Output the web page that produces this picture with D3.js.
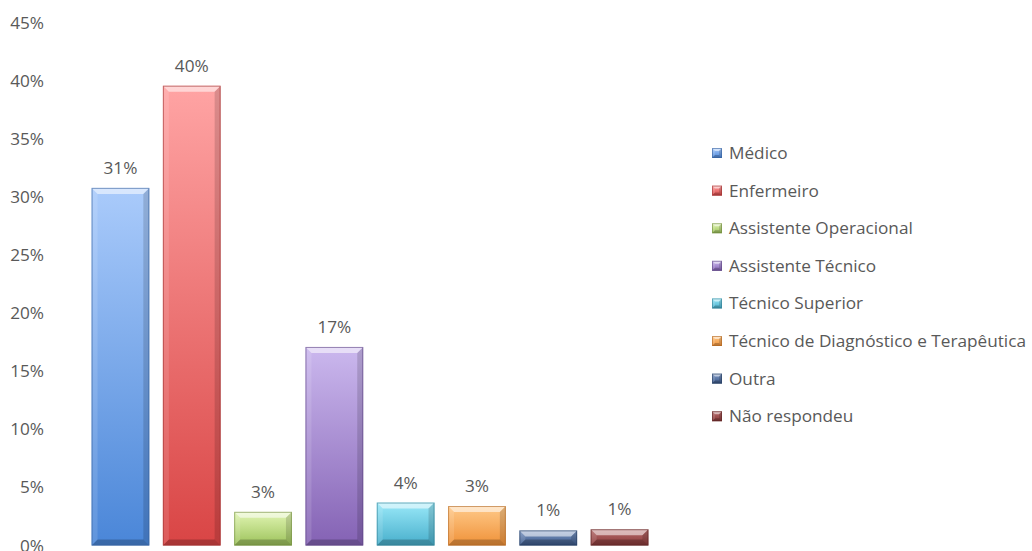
<!DOCTYPE html>
<html>
<head>
<meta charset="utf-8">
<script src="https://cdn.jsdelivr.net/npm/d3@7"></script>
<style>
  html, body { margin: 0; padding: 0; background: #fff; }
  svg text { font-family: "Open Sans", "Lato", sans-serif; fill: #595959; }
</style>
</head>
<body>
<svg id="chart" width="1032" height="551"></svg>
<script>
// Profissão dos respondentes (percentagem)
const categories = [
  "Médico", "Enfermeiro", "Assistente Operacional", "Assistente Técnico",
  "Técnico Superior", "Técnico de Diagnóstico e Terapêutica", "Outra", "Não respondeu"
];
const values = [0.308, 0.396, 0.029, 0.171, 0.037, 0.034, 0.013, 0.014];
const yTicks = [0, 0.05, 0.10, 0.15, 0.20, 0.25, 0.30, 0.35, 0.40, 0.45];
// [light top, dark bottom, edge]
const palette = [
  ["#aacbfb", "#4a86d8", "#35609e"],
  ["#ffa4a4", "#d94545", "#9c3030"],
  ["#e2f6b4", "#9cc25a", "#6f8a3c"],
  ["#cbb8ee", "#8462b4", "#5d4383"],
  ["#9ae9f9", "#47aecb", "#2f7e94"],
  ["#ffca8a", "#ef9138", "#b06622"],
  ["#7e98c4", "#3a5889", "#263d61"],
  ["#b66c6c", "#8a3838", "#5e2424"]
];

const svg = d3.select("#chart");
const fmt = d3.format(".0%");
const FONT = 17.2;

const x = d3.scaleBand().domain(categories).range([84.8, 655.2])
  .paddingInner(0.19).paddingOuter(0.095);
const y = d3.scaleLinear().domain([0, 0.45]).range([545.5, 23]);

// gradients
const defs = svg.append("defs");
palette.forEach((c, i) => {
  const g = defs.append("linearGradient").attr("id", "g" + i)
    .attr("x1", 0).attr("y1", 0).attr("x2", 0).attr("y2", 1);
  g.append("stop").attr("offset", "0%").attr("stop-color", c[0]);
  g.append("stop").attr("offset", "100%").attr("stop-color", c[1]);
});

// y axis labels
const yAxis = d3.axisLeft(y).tickValues(yTicks).tickFormat(fmt).tickSize(0).tickPadding(0);
const ax = svg.append("g").attr("transform", "translate(44,0)").call(yAxis);
ax.select(".domain").remove();
ax.selectAll("text").attr("font-size", FONT).attr("fill", "#595959")
  .style("font-family", "'Open Sans', Lato, sans-serif");

// bevelled bar
function bevelBar(g, x0, y0, w, h, i, bSize) {
  const c = palette[i];
  const b = Math.min(bSize, h / 2, w / 2);
  const x1 = x0 + w, y1 = y0 + h;
  g.append("rect").attr("x", x0).attr("y", y0).attr("width", w).attr("height", h)
    .attr("fill", `url(#g${i})`);
  const poly = (pts, fill, op) => g.append("polygon")
    .attr("points", pts.map(p => p.join(",")).join(" "))
    .attr("fill", fill).attr("fill-opacity", op);
  poly([[x0, y0], [x1, y0], [x1 - b, y0 + b], [x0 + b, y0 + b]], "#fff", 0.55);
  poly([[x0, y0], [x0 + b, y0 + b], [x0 + b, y1 - b], [x0, y1]], "#fff", 0.12);
  poly([[x1, y0], [x1, y1], [x1 - b, y1 - b], [x1 - b, y0 + b]], "#000", 0.14);
  poly([[x0, y1], [x0 + b, y1 - b], [x1 - b, y1 - b], [x1, y1]], "#000", 0.22);
  g.append("rect").attr("x", x0 + 0.5).attr("y", y0 + 0.5)
    .attr("width", w - 1).attr("height", h - 1)
    .attr("fill", "none").attr("stroke", c[2]).attr("stroke-opacity", 0.6).attr("stroke-width", 1);
}

const bars = svg.append("g");
categories.forEach((cat, i) => {
  const g = bars.append("g");
  bevelBar(g, x(cat), y(values[i]), x.bandwidth(), y(0) - y(values[i]), i, 6);
});

// value labels
svg.append("g").selectAll("text").data(categories).join("text")
  .attr("x", d => x(d) + x.bandwidth() / 2)
  .attr("y", (d, i) => y(values[i]) - 14)
  .attr("text-anchor", "middle")
  .attr("font-size", FONT)
  .text((d, i) => fmt(values[i]));

// legend
const legend = svg.append("g").attr("transform", "translate(712,153)");
categories.forEach((cat, i) => {
  const row = legend.append("g").attr("transform", `translate(0,${i * 37.6})`);
  bevelBar(row, 0, -5, 10, 10, i, 3);
  row.append("text").attr("x", 17).attr("y", 0).attr("dy", "0.35em")
    .attr("font-size", FONT).text(cat);
});
</script>
</body>
</html>
